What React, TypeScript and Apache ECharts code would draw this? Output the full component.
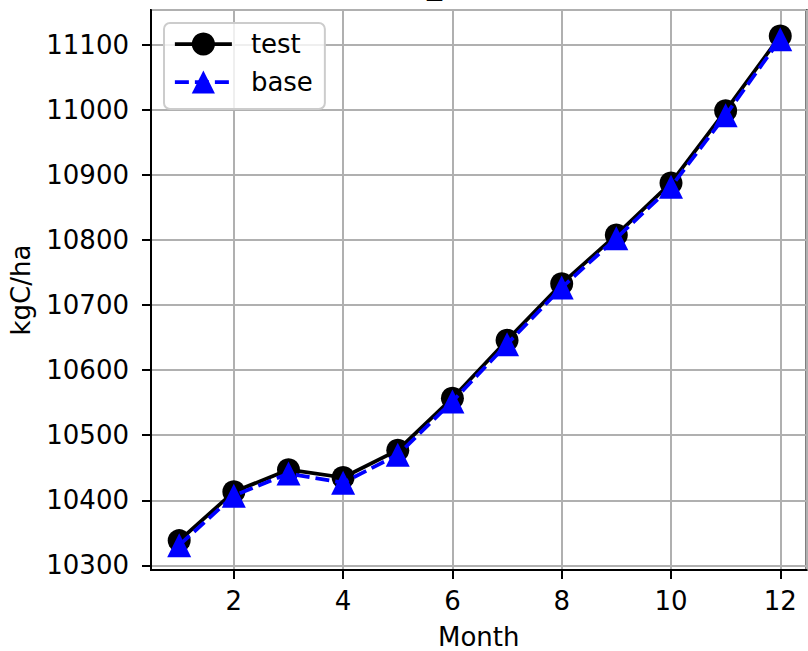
import React, { useEffect, useRef } from "react";
import * as echarts from "echarts";

const months = [1, 2, 3, 4, 5, 6, 7, 8, 9, 10, 11, 12];
const testValues = [10338, 10413, 10447, 10435, 10477, 10557, 10646, 10733, 10808, 10888, 10999, 11114];
const baseValues = [10331, 10407, 10441, 10427, 10470, 10552, 10640, 10727, 10803, 10882, 10992, 11109];
const seriesNames = ["test", "base"];
const xAxisTitle = "Month";
const yAxisTitle = "kgC/ha";
const FONT = "DejaVu Sans";
const FS = 26;

export default function App() {
  const ref = useRef<HTMLDivElement>(null);
  useEffect(() => {
    if (!ref.current) return;
    const chart = echarts.init(ref.current, undefined, { renderer: "svg" });
    const pair = (vals: number[]) => months.map((m, i) => [m, vals[i]]);
    chart.setOption({
      animation: false,
      backgroundColor: "#ffffff",
      textStyle: { fontFamily: FONT, color: "#000" },
      graphic: [
        {
          type: "text",
          x: 427,
          y: -32,
          style: { text: "_", font: `30px "${FONT}"`, fill: "#000", textVerticalAlign: "top" },
        },
      ],
      grid: {
        left: 151,
        top: 10,
        right: 1.5,
        bottom: 81,
        show: true,
        borderColor: "#000",
        borderWidth: 2,
        backgroundColor: "transparent",
        containLabel: false,
        outerBoundsMode: "none",
      },
      legend: {
        orient: "vertical",
        left: 164,
        top: 23,
        data: seriesNames,
        itemWidth: 57,
        itemHeight: 29,
        itemGap: 12,
        padding: [8, 12, 14, 9],
        backgroundColor: "rgba(255,255,255,0.8)",
        borderColor: "#cccccc",
        borderWidth: 2,
        borderRadius: 6,
        lineStyle: { width: 3.75 },
        textStyle: { fontFamily: FONT, fontSize: FS, color: "#000", padding: [0, 0, 0, 14] },
      },
      xAxis: {
        type: "value",
        min: 0.484,
        max: 12.48,
        minInterval: 2,
        maxInterval: 2,
        name: xAxisTitle,
        nameLocation: "middle",
        nameGap: 54,
        nameTextStyle: { fontFamily: FONT, fontSize: FS, color: "#000" },
        axisLine: { show: true, onZero: false, lineStyle: { color: "#000", width: 2 } },
        axisTick: { show: true, length: 9, lineStyle: { color: "#000", width: 2 } },
        axisLabel: {
          fontFamily: FONT,
          fontSize: FS,
          color: "#000",
          margin: 18,
          showMinLabel: false,
          showMaxLabel: false,
        },
        splitLine: { show: true, lineStyle: { color: "#b0b0b0", width: 2 } },
      },
      yAxis: {
        type: "value",
        min: 10292.8,
        max: 11153.8,
        minInterval: 100,
        maxInterval: 100,
        name: yAxisTitle,
        nameLocation: "middle",
        nameGap: 117,
        nameTextStyle: { fontFamily: FONT, fontSize: FS, color: "#000" },
        axisLine: { show: true, onZero: false, lineStyle: { color: "#000", width: 2 } },
        axisTick: { show: true, length: 9, lineStyle: { color: "#000", width: 2 } },
        axisLabel: {
          fontFamily: FONT,
          fontSize: FS,
          color: "#000",
          margin: 22,
          showMinLabel: false,
          showMaxLabel: false,
          formatter: (v: number) => String(Math.round(v)),
        },
        splitLine: { show: true, lineStyle: { color: "#b0b0b0", width: 2 } },
      },
      series: [
        {
          name: seriesNames[0],
          type: "line",
          data: pair(testValues),
          symbol: "circle",
          symbolSize: 23,
          color: "#000000",
          itemStyle: { color: "#000000" },
          lineStyle: { color: "#000000", width: 3.75 },
          z: 3,
        },
        {
          name: seriesNames[1],
          type: "line",
          data: pair(baseValues),
          symbol: "triangle",
          symbolSize: 24,
          color: "#0000ff",
          itemStyle: { color: "#0000ff" },
          lineStyle: { color: "#0000ff", width: 3.75, type: [14, 6] },
          z: 4,
        },
      ],
    });
    return () => chart.dispose();
  }, []);
  return (
    <div
      ref={ref}
      style={{ position: "fixed", left: 0, top: 0, width: 808, height: 651 }}
    />
  );
}
